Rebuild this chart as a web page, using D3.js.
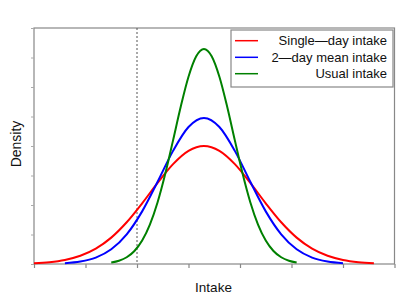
<!DOCTYPE html>
<html>
<head>
<meta charset="utf-8">
<script src="https://cdn.jsdelivr.net/npm/d3@7"></script>
<style>
  html, body { margin: 0; padding: 0; background: #fff; }
  svg { display: block; font-family: "Liberation Sans", Arial, sans-serif; }
</style>
</head>
<body>
<svg id="chart" width="404" height="305"></svg>
<script>
// ---- data ----
const seriesNames = ["Single\u2014day intake", "2\u2014day mean intake", "Usual intake"];
const seriesColors = ["#ff0000", "#0000ff", "#008000"];

const redX = [0, 0.3, 0.6, 0.9, 1.2, 1.5, 1.8, 2.1, 2.4, 2.7, 3.0, 3.3, 3.6, 3.9, 4.2, 4.5, 4.8, 5.1, 5.4, 5.7, 6.0, 6.3, 6.6];
const redY = [0.026, 0.062, 0.138, 0.279, 0.521, 0.894, 1.414, 2.056, 2.751, 3.387, 3.837, 4.0, 3.837, 3.387, 2.751, 2.056, 1.414, 0.894, 0.521, 0.279, 0.138, 0.062, 0.026];

const blueX = [0.6, 0.9, 1.2, 1.5, 1.8, 2.1, 2.4, 2.7, 3.0, 3.3, 3.6, 3.9, 4.2, 4.5, 4.8, 5.1, 5.4, 5.7, 6.0];
const blueY = [0.028, 0.084, 0.217, 0.498, 1.005, 1.784, 2.788, 3.835, 4.644, 4.95, 4.644, 3.835, 2.788, 1.784, 1.005, 0.498, 0.217, 0.084, 0.028];

const greenX = [1.5, 1.65, 1.8, 1.95, 2.1, 2.25, 2.4, 2.55, 2.7, 2.85, 3.0, 3.15, 3.3, 3.45, 3.6, 3.75, 3.9, 4.05, 4.2, 4.35, 4.5, 4.65, 4.8, 4.95, 5.1];
const greenY = [0.050, 0.111, 0.228, 0.441, 0.795, 1.336, 2.096, 3.068, 4.190, 5.338, 6.347, 7.042, 7.29, 7.042, 6.347, 5.338, 4.190, 3.068, 2.096, 1.336, 0.795, 0.441, 0.228, 0.111, 0.050];

const xTicks = [0, 1, 2, 3, 4, 5, 6, 7];
const yTicks = [0, 1, 2, 3, 4, 5, 6, 7, 8];
const cutoff = 2;

// ---- layout ----
const svg = d3.select("#chart");
const L = 34, R = 394.5, T = 28, B = 264;
const x = d3.scaleLinear().domain([0, 7]).range([L, R]);
const y = d3.scaleLinear().domain([0, 8]).range([B, T]);
const frameColor = "#888";

// frame
svg.append("rect").attr("x", L).attr("y", T).attr("width", R - L).attr("height", B - T)
  .attr("fill", "none").attr("stroke", frameColor).attr("stroke-width", 1.2);

// axes
const xAxis = svg.append("g").attr("transform", `translate(0,${B})`)
  .call(d3.axisBottom(x).tickValues(xTicks).tickSize(4).tickFormat(""));
xAxis.select(".domain").remove();
xAxis.selectAll("line").attr("stroke", frameColor).attr("stroke-width", 1.2);

const yAxis = svg.append("g").attr("transform", `translate(${L},0)`)
  .call(d3.axisLeft(y).tickValues(yTicks).tickSize(3).tickFormat(""));
yAxis.select(".domain").remove();
yAxis.selectAll("line").attr("stroke", "#aaa").attr("stroke-width", 1);

// cutoff dashed line
svg.append("line").attr("x1", x(cutoff)).attr("x2", x(cutoff)).attr("y1", T).attr("y2", B)
  .attr("stroke", "#555").attr("stroke-width", 1).attr("stroke-dasharray", "2,2");

// curves
const line = d3.line().x(d => x(d[0])).y(d => y(d[1])).curve(d3.curveMonotoneX);
const series = [
  d3.zip(redX, redY),
  d3.zip(blueX, blueY),
  d3.zip(greenX, greenY)
];
series.forEach((s, i) => {
  svg.append("path").datum(s).attr("d", line)
    .attr("fill", "none").attr("stroke", seriesColors[i]).attr("stroke-width", 2);
});

// axis titles
svg.append("text").attr("x", 213.5).attr("y", 292).attr("text-anchor", "middle")
  .attr("font-size", 13.5).attr("fill", "#111").text("Intake");
svg.append("text").attr("transform", `translate(20.5,144) rotate(-90)`)
  .attr("text-anchor", "middle").attr("font-size", 14).attr("fill", "#111").text("Density");

// legend
const lg = svg.append("g");
lg.append("rect").attr("x", 231).attr("y", 30).attr("width", 162).attr("height", 57)
  .attr("fill", "#fff").attr("stroke", frameColor).attr("stroke-width", 1.2);
const legY = [40.7, 57.3, 73.7];
seriesNames.forEach((n, i) => {
  lg.append("line").attr("x1", 235).attr("x2", 258).attr("y1", legY[i]).attr("y2", legY[i])
    .attr("stroke", seriesColors[i]).attr("stroke-width", 1.5);
  lg.append("text").attr("x", 387).attr("y", legY[i] + 4.6).attr("text-anchor", "end")
    .attr("font-size", 13).attr("fill", "#111").text(n);
});
</script>
</body>
</html>
